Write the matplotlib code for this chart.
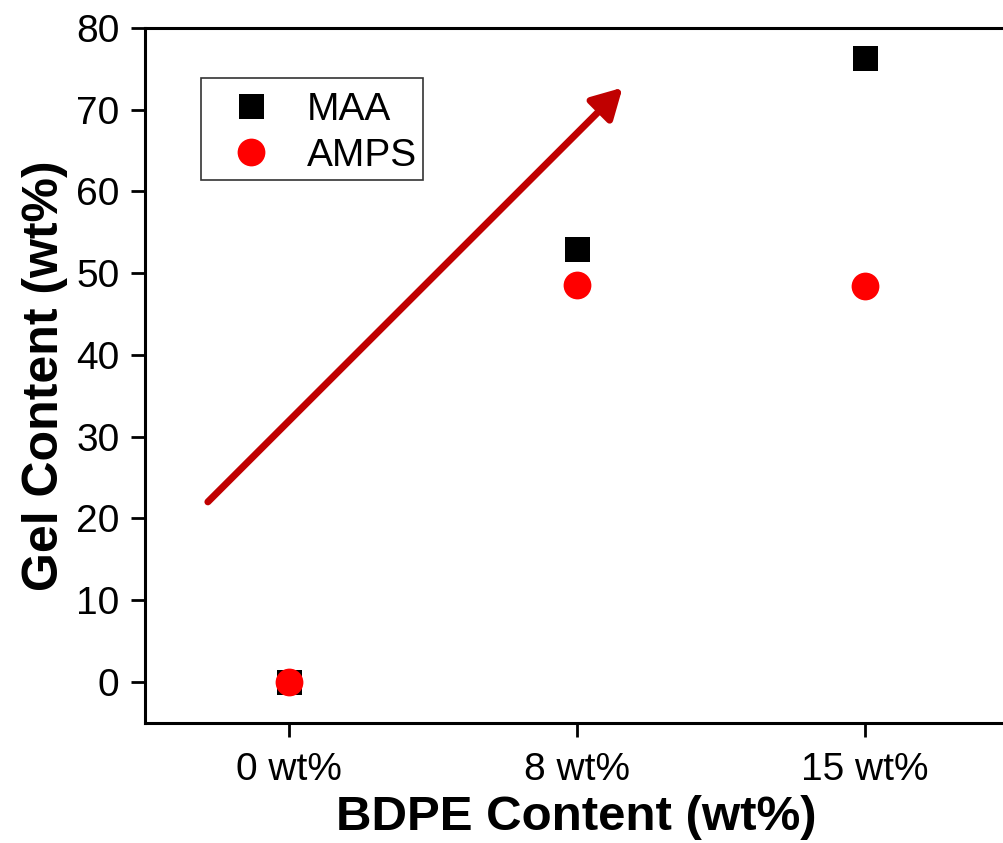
import matplotlib
matplotlib.use("Agg")
import matplotlib.pyplot as plt
from matplotlib.patches import Rectangle

plt.rcParams['font.family'] = ['Liberation Sans', 'DejaVu Sans']

categories = ["0 wt%", "8 wt%", "15 wt%"]
maa = [0.0, 52.9, 76.3]
amps = [0.0, 48.6, 48.4]
arrow_tail = (-0.28, 22.0)
arrow_head = (1.16, 72.7)

W, H = 1004, 843
fig = plt.figure(figsize=(W / 100, H / 100), dpi=100)
ax = fig.add_axes([144.5 / W, (H - 722.5) / H, 864 / W, (722.5 - 28) / H])

x = list(range(len(categories)))
ax.plot(x, maa, linestyle='none', marker='s', markersize=18, color='black',
        markeredgewidth=0, label='MAA', zorder=3)
ax.plot(x, amps, linestyle='none', marker='o', markersize=20, color='#ff0000',
        markeredgewidth=0, label='AMPS', zorder=4)

ax.annotate('', xy=arrow_head, xytext=arrow_tail,
            arrowprops=dict(arrowstyle='-|>,head_length=0.9,head_width=0.5',
                            mutation_scale=20, lw=5, color='#c00000',
                            shrinkA=0, shrinkB=0))

ax.set_xlim(-0.5, 2.5)
ax.set_ylim(-5, 80)
ax.set_xticks(x)
ax.set_xticklabels(categories)
ax.set_yticks(range(0, 81, 10))

for side in ['left', 'bottom', 'top', 'right']:
    ax.spines[side].set_linewidth(2.2)
ax.tick_params(axis='both', direction='out', length=10, width=2,
               labelsize=28, pad=8)
ax.tick_params(axis='x', pad=11)

ax.set_xlabel('BDPE Content (wt%)', fontsize=35.5, fontweight='bold', labelpad=5)
ax.set_ylabel('Gel Content (wt%)', fontsize=36, fontweight='bold', labelpad=6)

# legend entries without their own frame; a plain box is drawn around them
leg = ax.legend(loc='upper left', bbox_to_anchor=(0.0654, 0.928), fontsize=28,
                frameon=False, borderaxespad=0, borderpad=0.35,
                handlelength=1.87, handletextpad=0.5, labelspacing=0.26)
ax.add_patch(Rectangle((0.0654, 0.7811), 0.3223 - 0.0654, 0.928 - 0.7811,
                       transform=ax.transAxes, fill=False,
                       edgecolor='#333333', linewidth=1.2, zorder=5))

fig.savefig('out.png', dpi=100)
